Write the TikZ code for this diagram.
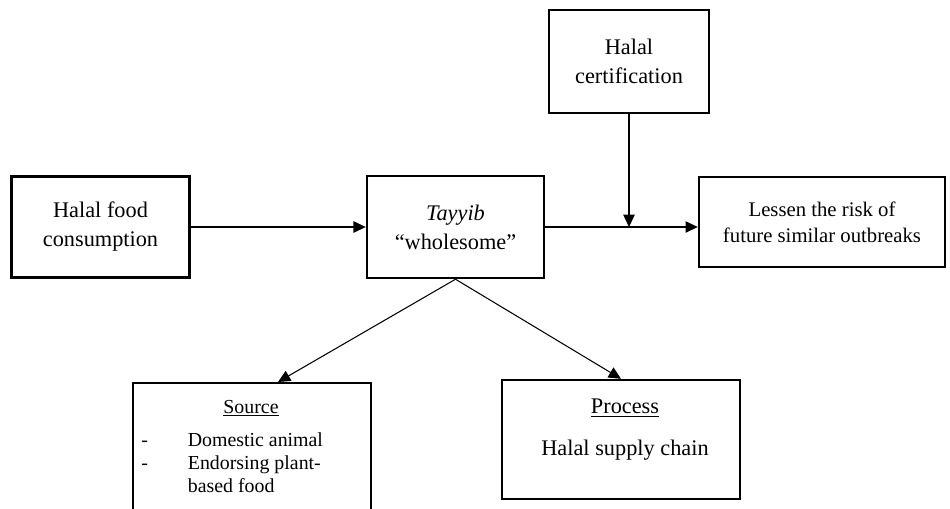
\documentclass[tikz,border=0pt]{standalone}
\usepackage{fontspec}
\setmainfont{Liberation Serif}
\usepackage{tikz}
\usetikzlibrary{arrows.meta, positioning}

\begin{document}
\begin{tikzpicture}[
    x=0.02cm, y=-0.02cm,
    box/.style={draw, line width=1.4pt, align=center, inner sep=0pt},
    arrow/.style={-{Triangle[length=7pt, width=6.5pt]}, line width=0.6pt},
    every node/.style={font=\fontsize{12.7pt}{16.5pt}\selectfont}
]

\useasboundingbox (0,0) rectangle (950,508);

% Top row
\node[box, minimum width=3.56cm, minimum height=2.02cm] (food) at (100.5,227)
{Halal food\\consumption};

\node[box, minimum width=3.54cm, minimum height=2.04cm] (tayyib) at (455.5,227)
{\textit{Tayyib}\\``wholesome''};

\node[box, minimum width=4.92cm, minimum height=1.80cm,
      font=\fontsize{11.8pt}{15pt}\selectfont] (lessen) at (822,222)
{Lessen the risk of\\future similar outbreaks};

\node[box, minimum width=3.20cm, minimum height=2.06cm] (cert) at (629,61.5)
{Halal\\certification};

% Bottom row
\node[box, minimum width=4.76cm, minimum height=2.70cm, anchor=north west] (source) at (132,382) {};
\node[font=\fontsize{11.3pt}{13pt}\selectfont, anchor=base] (srctitle) at (251,413) {\underline{Source}};
\node[font=\fontsize{11.3pt}{13.3pt}\selectfont, anchor=north west, align=left, inner sep=0pt]
  (srclist) at (141,432)
{\makebox[26.5pt][l]{-}Domestic animal\\
 \makebox[26.5pt][l]{-}Endorsing plant-\\
 \makebox[26.5pt][l]{}based food};

\node[box, minimum width=4.76cm, minimum height=2.38cm] (process) at (621,439.5) {};
\node[anchor=north, align=center, inner sep=0pt] (proctext) at (625,399)
{\underline{Process}\\[7pt]Halal supply chain};

% Arrows
\coordinate (join) at (cert.south |- tayyib.east);
\coordinate (srctip) at (278,382);

\draw[arrow] (food.east) -- (tayyib.west);
\draw[arrow] (tayyib.east) -- (tayyib.east -| lessen.west);
\draw[arrow] (cert.south) -- (join);

\draw[arrow] (tayyib.south) -- (srctip);
\draw[arrow] (tayyib.south) -- (process.north);

\end{tikzpicture}
\end{document}
